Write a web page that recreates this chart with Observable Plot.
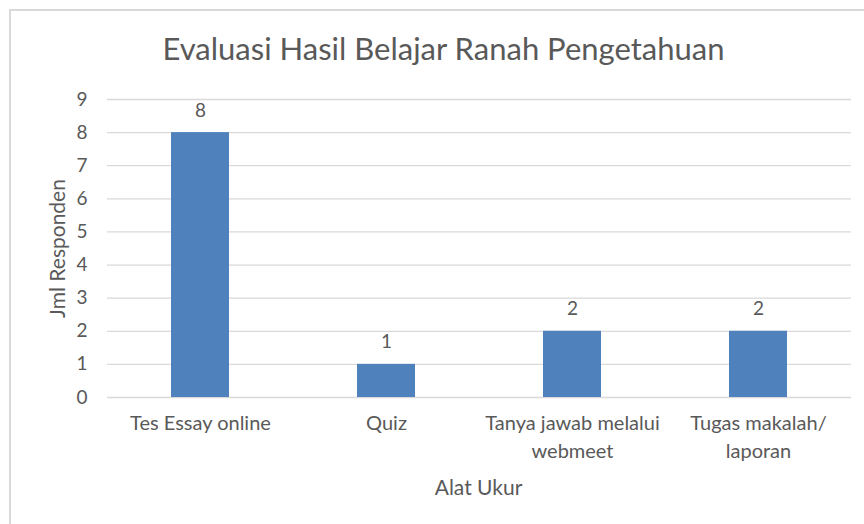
<!DOCTYPE html>
<html>
<head>
<meta charset="utf-8">
<script src="https://cdn.jsdelivr.net/npm/d3@7"></script>
<script src="https://cdn.jsdelivr.net/npm/@observablehq/plot@0.6"></script>
<style>
  html, body { margin: 0; padding: 0; background: #fff; }
  #wrap { position: relative; width: 864px; height: 524px; overflow: hidden; }
  #frame { position: absolute; left: 9px; top: 9px; width: 900px; height: 600px; border: 2px solid #d9d9d9; box-sizing: border-box; }
  #chart { position: absolute; left: 0; top: 0; }
</style>
</head>
<body>
<div id="wrap"><div id="frame"></div><div id="chart"></div></div>
<script>
const categories = ["Tes Essay online", "Quiz", "Tanya jawab melalui webmeet", "Tugas makalah/ laporan"];
const tickLabels = ["Tes Essay online", "Quiz", "Tanya jawab melalui\nwebmeet", "Tugas makalah/\nlaporan"];
const values = [8, 1, 2, 2];
const yTicks = [0, 1, 2, 3, 4, 5, 6, 7, 8, 9];
const title = "Evaluasi Hasil Belajar Ranah Pengetahuan";
const xTitle = "Alat Ukur";
const yTitle = "Jml Responden";

const data = categories.map((c, i) => ({cat: c, val: values[i]}));
const font = "Lato, 'Open Sans', sans-serif";
const textColor = "#595959";

const chart = Plot.plot({
  width: 864,
  height: 524,
  marginLeft: 107,
  marginRight: 13,
  marginTop: 99,
  marginBottom: 127,
  style: {fontFamily: font, color: textColor, background: "transparent"},
  x: {domain: categories, paddingInner: 0.688, paddingOuter: 0.344, label: null},
  y: {domain: [0, 9], label: null},
  marks: [
    Plot.gridY(yTicks, {stroke: "#d9d9d9", strokeOpacity: 1, strokeWidth: 1.3}),
    Plot.barY(data, {x: "cat", y: "val", fill: "#4f81bd"}),
    Plot.text(data, {x: "cat", y: "val", text: d => String(d.val), dy: -22, fontSize: 19, fill: textColor}),
    Plot.axisY({ticks: yTicks, tickSize: 0, tickPadding: 20, fontSize: 19, fill: textColor, label: null}),
    Plot.axisX({tickSize: 0, tickPadding: 13, fontSize: 20, fill: textColor, label: null,
      lineHeight: 1.4,
      tickFormat: d => tickLabels[categories.indexOf(d)]}),
    Plot.text([title], {frameAnchor: "top", lineAnchor: "middle", dx: -36, dy: -49, fontSize: 31, fill: textColor}),
    Plot.text([yTitle], {frameAnchor: "left", textAnchor: "middle", lineAnchor: "middle", dx: -49, rotate: -90, fontSize: 21, fill: textColor}),
    Plot.text([xTitle], {frameAnchor: "bottom", lineAnchor: "middle", dx: -1, dy: 91, fontSize: 21, fill: textColor})
  ]
});
document.getElementById("chart").appendChild(chart);
</script>
</body>
</html>
